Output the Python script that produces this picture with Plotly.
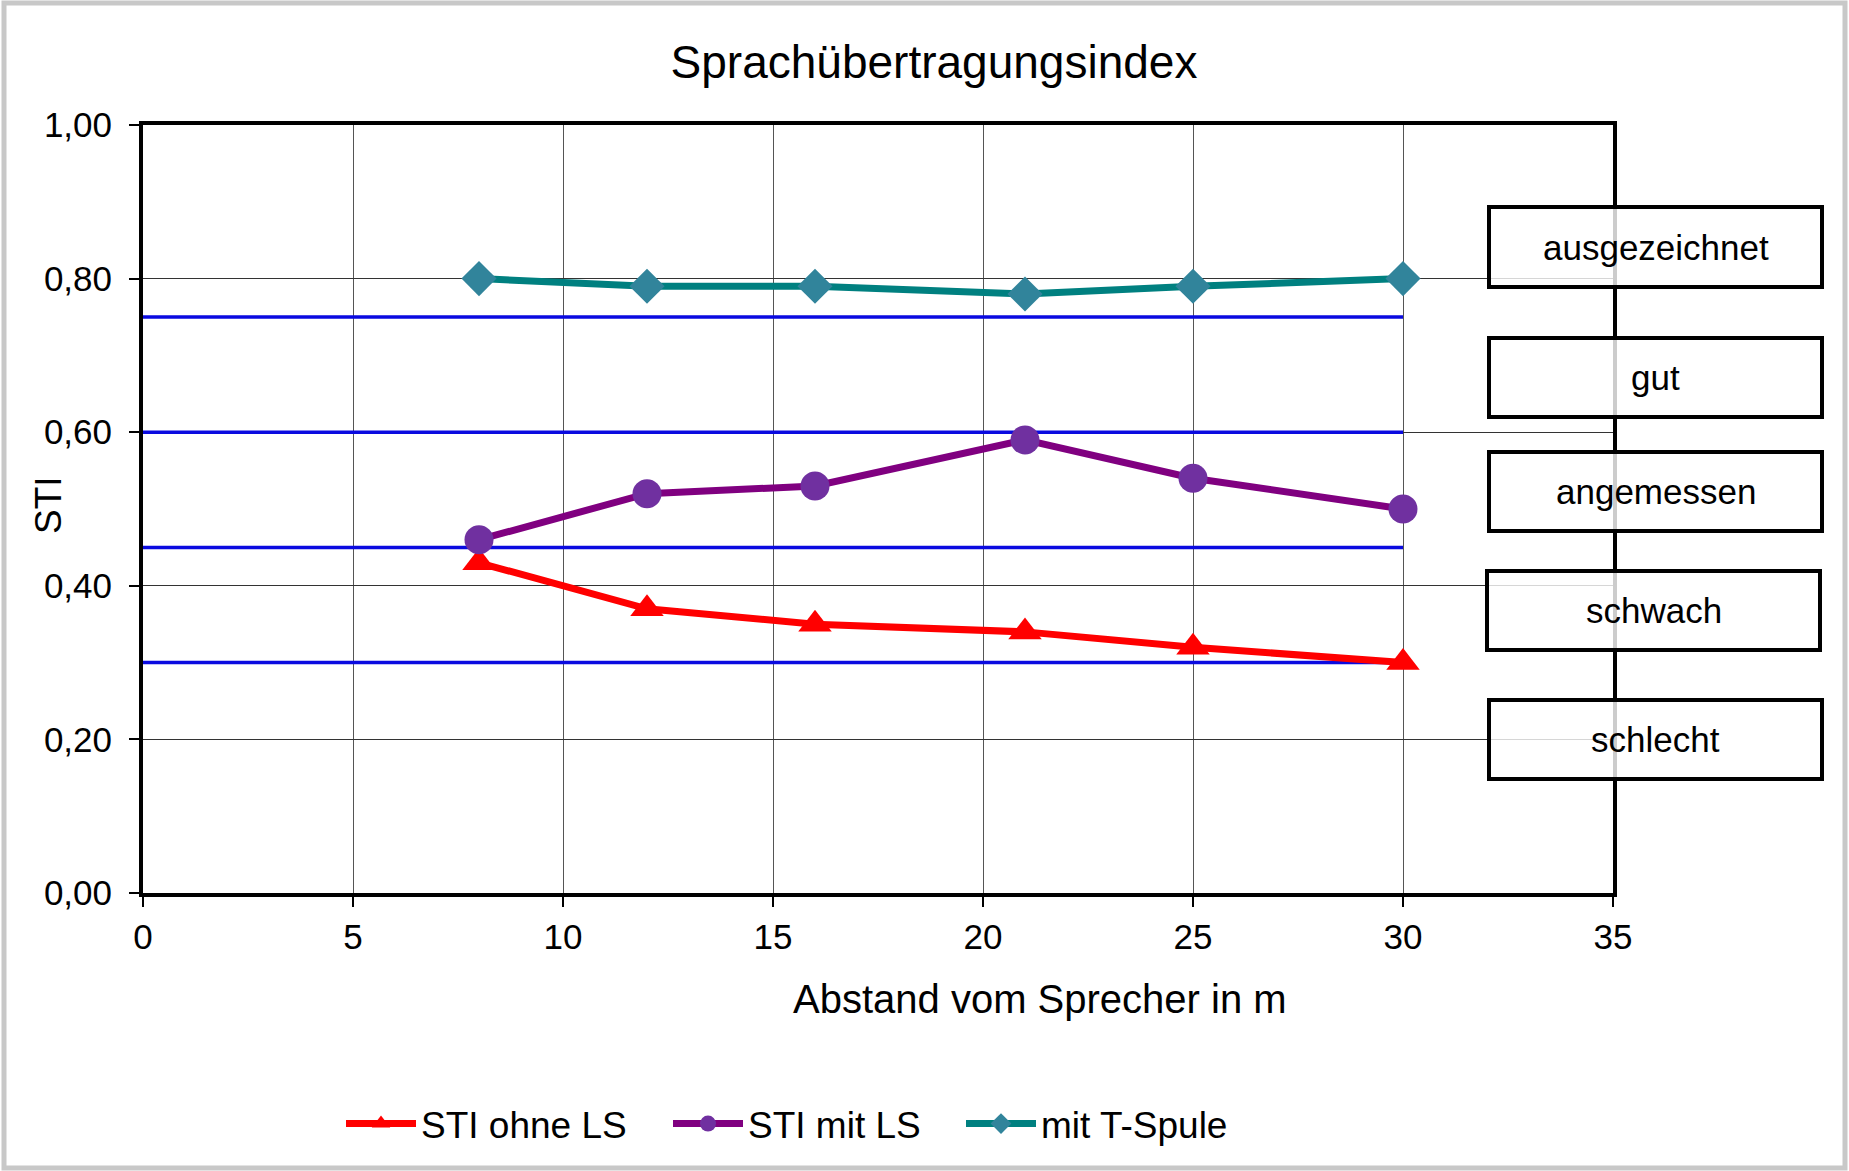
import plotly.graph_objects as go

# ---------------- data ----------------
distance_m = [8, 12, 16, 21, 25, 30]
sti_ohne_ls = [0.43, 0.37, 0.35, 0.34, 0.32, 0.30]
sti_mit_ls = [0.46, 0.52, 0.53, 0.59, 0.54, 0.50]
mit_t_spule = [0.80, 0.79, 0.79, 0.78, 0.79, 0.80]
series_names = ["STI ohne LS", "STI mit LS", "mit T-Spule"]
threshold_values = [0.30, 0.45, 0.60, 0.75]
threshold_x = [0, 30]
rating_labels = ["ausgezeichnet", "gut", "angemessen", "schwach", "schlecht"]
x_tick_values = [0, 5, 10, 15, 20, 25, 30, 35]
y_tick_values = [0.0, 0.2, 0.4, 0.6, 0.8, 1.0]

# ---------------- layout constants (pixels) ----------------
W, H = 1849, 1171
PL, PR, PT, PB = 143, 1613, 125, 893  # plot area
FONT = "Liberation Sans, Arial, sans-serif"
# rating boxes: left, right, top, bottom in px
box_px = [
    (1489, 1822, 207, 287),
    (1489, 1822, 338, 417),
    (1489, 1822, 452, 531),
    (1487, 1820, 571, 650),
    (1489, 1822, 700, 779),
]
legend_x_px = [341, 668, 961]
legend_y_px = 1124


def px_x(p):
    return p / W


def px_y(p):
    return 1 - p / H


fig = go.Figure()

# threshold lines (blue)
for tv in threshold_values:
    fig.add_trace(go.Scatter(
        x=threshold_x, y=[tv, tv], mode="lines",
        line=dict(color="#0a0ae0", width=3.5),
        showlegend=False, hoverinfo="skip",
    ))

fig.add_trace(go.Scatter(
    x=distance_m, y=sti_ohne_ls, name=series_names[0], mode="lines+markers",
    line=dict(color="#FF0000", width=7),
    marker=dict(symbol="triangle-up", size=29, color="#FF0000"),
    legend="legend",
))
fig.add_trace(go.Scatter(
    x=distance_m, y=sti_mit_ls, name=series_names[1], mode="lines+markers",
    line=dict(color="#800080", width=7),
    marker=dict(symbol="circle", size=29, color="#7030A0"),
    legend="legend2",
))
fig.add_trace(go.Scatter(
    x=distance_m, y=mit_t_spule, name=series_names[2], mode="lines+markers",
    line=dict(color="#008080", width=7),
    marker=dict(symbol="diamond", size=27, color="#31849B"),
    legend="legend3",
))

shapes = []
annotations = []

# rating boxes
for label, (l, r, t, b) in zip(rating_labels, box_px):
    shapes.append(dict(
        type="rect", xref="paper", yref="paper",
        x0=px_x(l), x1=px_x(r), y0=px_y(b), y1=px_y(t),
        line=dict(color="black", width=4),
        fillcolor="rgba(255,255,255,0.8)", layer="above",
    ))
    annotations.append(dict(
        text=label, xref="paper", yref="paper",
        x=px_x((l + r) / 2), y=px_y((t + b) / 2),
        xanchor="center", yanchor="middle", showarrow=False,
        font=dict(family=FONT, size=35, color="black"),
    ))

# outer chart frame
shapes.append(dict(
    type="rect", xref="paper", yref="paper",
    x0=px_x(4), x1=px_x(1845), y0=px_y(1168), y1=px_y(3),
    line=dict(color="#c8c8c8", width=5), layer="below",
))

# axis titles
annotations.append(dict(
    text="Abstand vom Sprecher in m", xref="paper", yref="paper",
    x=px_x(1040), y=px_y(999), xanchor="center", yanchor="middle",
    showarrow=False, font=dict(family=FONT, size=40, color="black"),
))
annotations.append(dict(
    text="STI", xref="paper", yref="paper",
    x=px_x(48), y=px_y(505), xanchor="center", yanchor="middle",
    textangle=-90, showarrow=False, font=dict(family=FONT, size=37, color="black"),
))

legend_common = dict(
    orientation="h", yanchor="middle", xanchor="left",
    font=dict(family=FONT, size=37, color="black"),
    bgcolor="rgba(0,0,0,0)", itemwidth=70,
)

fig.update_layout(
    width=W, height=H,
    margin=dict(l=0, r=0, t=0, b=0, pad=0, autoexpand=False),
    paper_bgcolor="white", plot_bgcolor="white",
    separators=",.",
    font=dict(family=FONT, color="black"),
    title=dict(
        text="Sprachübertragungsindex", x=934 / W, xref="container", xanchor="center",
        y=1 - 62 / H, yref="container", yanchor="middle",
        font=dict(family=FONT, size=46, color="black"),
    ),
    xaxis=dict(
        domain=[px_x(PL), px_x(PR)], range=[0, 35],
        tickvals=x_tick_values, ticks="outside", ticklen=10, tickwidth=2, tickcolor="black",
        showline=True, linewidth=4, linecolor="black", mirror=True,
        showgrid=True, gridcolor="#555555", gridwidth=1, zeroline=False,
        tickfont=dict(family=FONT, size=35, color="black"), automargin=False,
    ),
    yaxis=dict(
        domain=[px_y(PB), px_y(PT)], range=[0, 1],
        tickvals=y_tick_values, tickformat=".2f", ticks="outside", ticklen=10, tickwidth=2,
        tickcolor="black", ticklabelstandoff=10,
        showline=True, linewidth=4, linecolor="black", mirror=True,
        showgrid=True, gridcolor="#333333", gridwidth=1, zeroline=False,
        tickfont=dict(family=FONT, size=35, color="black"), automargin=False,
    ),
    legend=dict(x=px_x(legend_x_px[0]), y=px_y(legend_y_px), **legend_common),
    legend2=dict(x=px_x(legend_x_px[1]), y=px_y(legend_y_px), **legend_common),
    legend3=dict(x=px_x(legend_x_px[2]), y=px_y(legend_y_px), **legend_common),
    shapes=shapes,
    annotations=annotations,
)

post = (
    "document.documentElement.style.margin='0';"
    "document.documentElement.style.overflow='hidden';"
    "document.body.style.margin='0';"
    "document.body.style.overflow='hidden';"
)

fig.write_html("out.html", post_script=post, config={"displayModeBar": False})
